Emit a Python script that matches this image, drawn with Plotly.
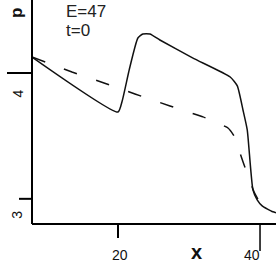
import plotly.graph_objects as go

solid_x = [7.89, 20.0, 20.6, 21.6, 22.8, 23.5, 24.5, 25.9, 30.5, 35.8, 36.8, 37.6, 38.2, 39.0, 39.6, 40.3, 41.8, 42.25]
solid_p = [4.127, 3.690, 3.78, 4.03, 4.278, 4.31, 4.31, 4.262, 4.12, 3.968, 3.897, 3.706, 3.548, 3.071, 2.992, 2.944, 2.897, 2.89]

dash_x = [7.89, 13.52, 18.03, 22.39, 27.32, 31.97, 35.49, 36.34, 37.6, 39.15, 40.0, 40.5]
dash_p = [4.127, 4.008, 3.921, 3.833, 3.738, 3.651, 3.563, 3.500, 3.294, 3.056, 2.968, 2.94]

x_ticks = [20, 40]
x_tick_labels = ["20", "40"]
y_ticks = [4, 3]
y_tick_labels = ["4", "3"]

X_RANGE = [7.89, 42.25]
Y_RANGE = [2.80, 4.58]

fig = go.Figure()
fig.add_trace(go.Scatter(x=solid_x, y=solid_p, mode="lines",
                         line=dict(color="#111", width=1.5, shape="spline", smoothing=0.5)))
fig.add_trace(go.Scatter(x=dash_x, y=dash_p, mode="lines",
                         line=dict(color="#111", width=1.5, dash="14px,20px", shape="spline", smoothing=0.3)))

shapes = []
shapes.append(dict(type="line", xref="paper", yref="paper", x0=0, x1=0, y0=0, y1=1,
                   line=dict(color="black", width=2)))
shapes.append(dict(type="line", xref="paper", yref="paper", x0=0, x1=1, y0=0, y1=0,
                   line=dict(color="black", width=2)))
ytick_len = [25, 13]
for v, L in zip(y_ticks, ytick_len):
    shapes.append(dict(type="line", xref="paper", yref="y", x0=-L/244, x1=0, y0=v, y1=v,
                       line=dict(color="black", width=2)))
xtick_len = [14, 27]
xtick_w = [2, 1.5]
for v, L, w in zip(x_ticks, xtick_len, xtick_w):
    shapes.append(dict(type="line", xref="x", yref="paper", x0=v, x1=v, y0=0, y1=-L/224,
                       line=dict(color="black", width=w)))

FAM = "Liberation Sans, Arial"
tick_font = dict(family=FAM, size=14, color="#111")
ytick_font = dict(family=FAM, size=14, color="#111")
common = dict(showarrow=False, xanchor="center", yanchor="middle", borderpad=0)
annotations = [
    dict(x=x_ticks[0], y=0, xref="x", yref="paper", text=x_tick_labels[0], xshift=2, yshift=-31, font=tick_font, **common),
    dict(x=x_ticks[1], y=0, xref="x", yref="paper", text=x_tick_labels[1], xshift=-8, yshift=-31, font=tick_font, **common),
    dict(x=0, y=y_ticks[0], xref="paper", yref="y", text=y_tick_labels[0], textangle=-90,
         xshift=-14.5, yshift=-21, font=ytick_font, **common),
    dict(x=0, y=y_ticks[1], xref="paper", yref="y", text=y_tick_labels[1], textangle=-90,
         xshift=-15, yshift=-16, font=ytick_font, **common),
    dict(x=0, y=1, xref="paper", yref="paper", text="<b>p</b>", textangle=-90,
         xshift=-16, yshift=-13, font=dict(family=FAM, size=17, color="#111"), **common),
    dict(x=0.675, y=0, xref="paper", yref="paper", text="<b>x</b>",
         yshift=-28, font=dict(family=FAM, size=20, color="#111"), **common),
    dict(x=0, y=1, xref="paper", yref="paper", text="E=47", showarrow=False, xanchor="left", yanchor="middle",
         xshift=32, yshift=-11, font=dict(family=FAM, size=17, color="#222")),
    dict(x=0, y=1, xref="paper", yref="paper", text="t=0", showarrow=False, xanchor="left", yanchor="middle",
         xshift=32, yshift=-30, font=dict(family=FAM, size=17, color="#222")),
]

fig.update_layout(
    width=276, height=264,
    margin=dict(l=32, r=0, t=0, b=40),
    paper_bgcolor="white", plot_bgcolor="white",
    showlegend=False,
    shapes=shapes, annotations=annotations,
    xaxis=dict(range=X_RANGE, showgrid=False, zeroline=False, showticklabels=False, ticks="", showline=False),
    yaxis=dict(range=Y_RANGE, showgrid=False, zeroline=False, showticklabels=False, ticks="", showline=False),
)
fig.write_html("out.html", config={"displayModeBar": False},
               post_script="document.body.style.margin='0';document.body.style.overflow='hidden';")
